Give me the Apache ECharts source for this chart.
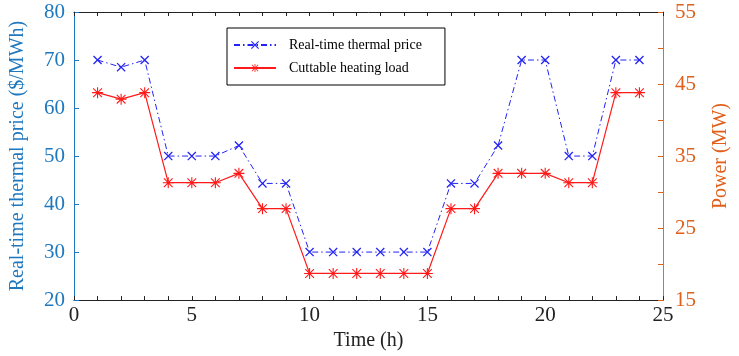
<!DOCTYPE html>
<html>
<head>
<meta charset="utf-8">
<script src="https://cdn.jsdelivr.net/npm/echarts@6/dist/echarts.min.js"></script>
<style>
  html, body { margin: 0; padding: 0; background: #fff; }
  #chart { width: 739px; height: 356px; }
</style>
</head>
<body>
<div id="chart"></div>
<script>
var hours = [1, 2, 3, 4, 5, 6, 7, 8, 9, 10, 11, 12, 13, 14, 15, 16, 17, 18, 19, 20, 21, 22, 23, 24];
var thermalPrice = [70, 68.5, 70, 50, 50, 50, 52.2, 44.3, 44.3, 30, 30, 30, 30, 30, 30, 44.3, 44.3, 52.2, 70, 70, 50, 50, 70, 70];
var heatingLoad = [43.8, 42.9, 43.8, 31.3, 31.3, 31.3, 32.6, 27.7, 27.7, 18.7, 18.7, 18.7, 18.7, 18.7, 18.7, 27.7, 27.7, 32.6, 32.6, 32.6, 31.3, 31.3, 43.8, 43.8];
var seriesNames = ['Real-time thermal price', 'Cuttable heating load'];

var chart = echarts.init(document.getElementById('chart'));
var font = 'Liberation Serif';
var blue = '#1f78be';
var orange = '#e0601b';

// x marker and asterisk marker as thin filled strokes
var xMark = 'path://M0,1L1,0L10,9L9,10Z M9,0L10,1L1,10L0,9Z';
var starMark = 'path://M0,4.5L10,4.5L10,5.5L0,5.5Z M4.5,0L5.5,0L5.5,10L4.5,10Z M0.7,1.4L1.4,0.7L9.3,8.6L8.6,9.3Z M8.6,0.7L9.3,1.4L1.4,9.3L0.7,8.6Z';

function pairs(ys) {
    return hours.map(function (h, i) { return [h, ys[i]]; });
}

var option = {
    animation: false,
    textStyle: { fontFamily: font },
    grid: { left: 74, right: 74, top: 12, bottom: 52 },
    legend: {
        orient: 'vertical',
        left: 227,
        top: 28,
        padding: [10, 23, 10, 6],
        itemWidth: 42,
        itemHeight: 10,
        itemGap: 9,
        borderColor: '#000',
        borderWidth: 1,
        textStyle: { fontFamily: font, fontSize: 14, color: '#000', padding: [0, 0, 0, 8] },
        data: seriesNames
    },
    xAxis: [{
        type: 'value',
        min: 0, max: 25, interval: 1,
        name: 'Time (h)',
        nameLocation: 'middle',
        nameGap: 29,
        nameTextStyle: { fontFamily: font, fontSize: 20, color: '#222' },
        axisLine: { onZero: false, lineStyle: { color: '#222', width: 1 } },
        axisTick: { show: true, inside: true, length: 4, lineStyle: { color: '#222' } },
        axisLabel: {
            fontFamily: font, fontSize: 21, color: '#222', margin: 5,
            formatter: function (v) { return v % 5 === 0 ? String(v) : ''; }
        },
        splitLine: { show: false }
    }, {
        type: 'value',
        position: 'top',
        min: 0, max: 25, interval: 1,
        axisLine: { onZero: false, lineStyle: { color: '#222', width: 1 } },
        axisTick: { show: true, inside: true, length: 4, lineStyle: { color: '#222' } },
        axisLabel: { show: false },
        splitLine: { show: false }
    }],
    yAxis: [{
        type: 'value',
        min: 20, max: 80, interval: 10,
        name: 'Real-time thermal price ($/MWh)',
        nameLocation: 'middle',
        nameRotate: 90,
        nameGap: 46,
        nameTextStyle: { fontFamily: font, fontSize: 20, color: blue },
        axisLine: { show: true, onZero: false, lineStyle: { color: blue, width: 1 } },
        axisTick: { show: true, inside: true, length: 5, lineStyle: { color: blue } },
        axisLabel: { fontFamily: font, fontSize: 21, color: blue, margin: 9 },
        splitLine: { show: false }
    }, {
        type: 'value',
        position: 'right',
        min: 15, max: 55, interval: 5,
        name: 'Power (MW)',
        nameLocation: 'middle',
        nameRotate: 90,
        nameGap: 48,
        nameTextStyle: { fontFamily: font, fontSize: 20, color: orange },
        axisLine: { show: true, onZero: false, lineStyle: { color: '#b07a6a', width: 1 } },
        axisTick: { show: true, inside: true, length: 5, lineStyle: { color: orange } },
        axisLabel: {
            fontFamily: font, fontSize: 21, color: orange, margin: 12,
            formatter: function (v) { return (v - 15) % 10 === 0 ? String(v) : ''; }
        },
        splitLine: { show: false }
    }],
    series: [{
        name: seriesNames[0],
        type: 'line',
        xAxisIndex: 0,
        yAxisIndex: 0,
        data: pairs(thermalPrice),
        symbol: xMark,
        symbolSize: 9,
        color: '#2323f5',
        lineStyle: { width: 1, color: '#2323f5', type: [6, 3, 1.5, 3] },
        itemStyle: { color: '#2323f5' }
    }, {
        name: seriesNames[1],
        type: 'line',
        xAxisIndex: 0,
        yAxisIndex: 1,
        data: pairs(heatingLoad),
        symbol: starMark,
        symbolSize: 11,
        color: '#ff1a1a',
        lineStyle: { width: 1.2, color: '#ff1a1a' },
        itemStyle: { color: '#ff1a1a' }
    }]
};
chart.setOption(option);
</script>
</body>
</html>
